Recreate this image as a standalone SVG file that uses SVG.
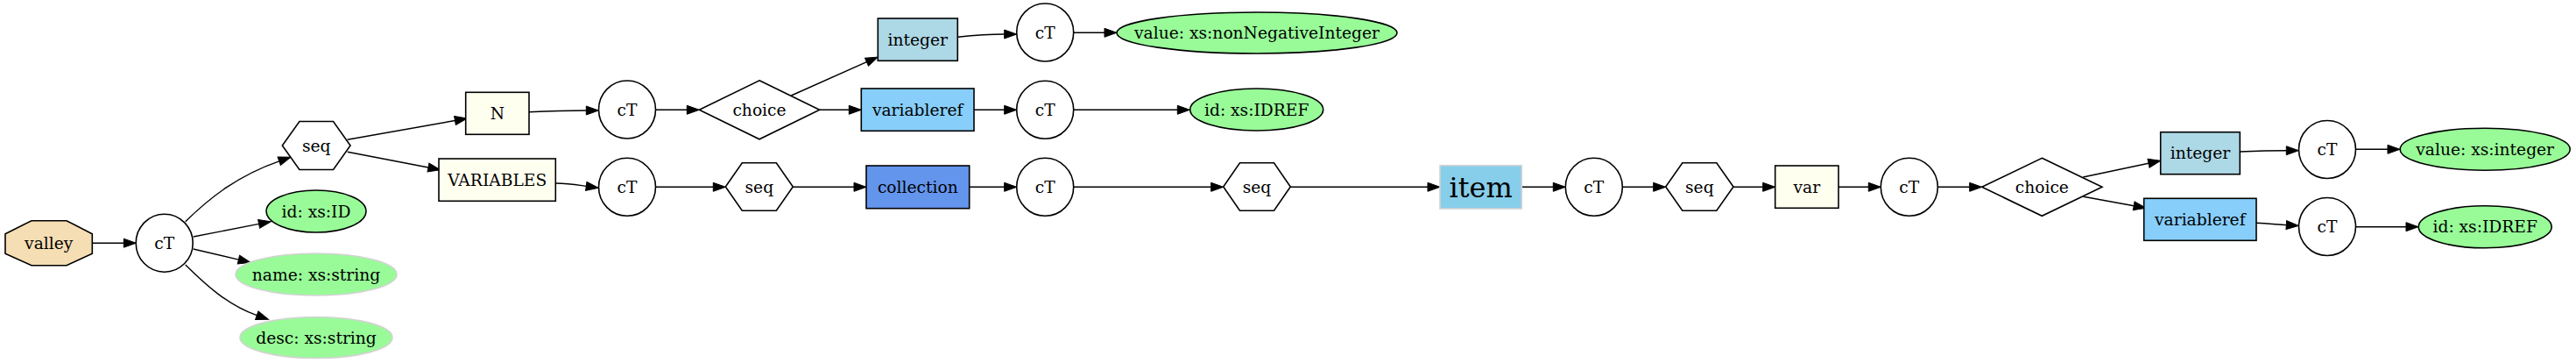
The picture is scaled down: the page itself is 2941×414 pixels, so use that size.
<svg xmlns="http://www.w3.org/2000/svg" width="2941" height="414" viewBox="0 0 2941 414">
<defs>
<style>
.s{stroke:#000;stroke-width:1.6}
.w{fill:#fff}
.iv{fill:#fffff0}
.lb{fill:#add8e6}
.ls{fill:#87cefa}
.cf{fill:#6495ed}
.sk{fill:#87ceeb;stroke:#d3d3d3;stroke-width:1.6}
.g{fill:#98fb98}
.gl{fill:#98fb98;stroke:#d3d3d3;stroke-width:1.6}
.wh{fill:#f5deb3}
text{font-family:"DejaVu Serif","Liberation Serif",serif;font-size:18.67px;text-anchor:middle;fill:#000}
.big{font-size:32px}
#edges path{fill:none;stroke:#000;stroke-width:1.4;marker-end:url(#ah)}
</style>
<marker id="ah" markerUnits="userSpaceOnUse" markerWidth="15" markerHeight="11" refX="0" refY="5" orient="auto" overflow="visible">
<path d="M0,0 L14,5 L0,10 Z" fill="#000" stroke="#000" stroke-width="1"/>
</marker>
</defs>
<rect width="2941" height="414" fill="#fff"/>
<g id="edges">
<path d="M105.3,277.2 L141.3,277.2"/>
<path d="M211.7,252.7 C240,225 272,200 318.7,183.8"/>
<path d="M220.7,270 L295.6,255.4"/>
<path d="M220.7,284 L272.4,296.1"/>
<path d="M211.7,302 C235,325 260,348 293.2,359.7"/>
<path d="M396.7,159.3 L519.5,137.5"/>
<path d="M396.7,173.3 L489,191"/>
<path d="M604,127.7 C630,126.5 650,126 669.3,126"/>
<path d="M748.3,125.3 L784.3,125.3"/>
<path d="M903.3,109 L989.5,70.7"/>
<path d="M935.7,125.3 L969.3,125.3"/>
<path d="M634.3,209 C650,209 660,211 669.3,212.3"/>
<path d="M748.3,213.3 L814.3,213.3"/>
<path d="M905.3,213.3 L975,213.3"/>
<path d="M1093.3,42.3 C1115,40 1130,39 1146.7,39"/>
<path d="M1225.7,37.3 L1261,37.3"/>
<path d="M1112,125.3 L1146.7,125.3"/>
<path d="M1225.7,125.3 L1344.3,125.3"/>
<path d="M1106.7,213.3 L1146.7,213.3"/>
<path d="M1225.7,213.3 L1382.7,213.3"/>
<path d="M1473.3,213.3 L1630,213.3"/>
<path d="M1737.3,213.3 L1773.3,213.3"/>
<path d="M1852.3,213.3 L1887.7,213.3"/>
<path d="M1979,213.3 L2012.7,213.3"/>
<path d="M2099,213.3 L2133.3,213.3"/>
<path d="M2212.3,213.3 L2248.7,213.3"/>
<path d="M2378.3,202 L2453,186.2"/>
<path d="M2377.3,224 L2436.2,234.8"/>
<path d="M2557.3,173 C2580,172 2595,171.7 2610.3,171.7"/>
<path d="M2689.7,170.3 L2726,170.3"/>
<path d="M2576,254.3 C2590,255 2600,256 2610.3,256.6"/>
<path d="M2689.7,258.7 L2747,258.7"/>
</g>
<g id="valley"><polygon class="wh s" points="36,251.7 76,251.7 105.3,266.7 105.3,289.3 76,302.7 36,302.7 6,289.3 6,266.7"/><text x="55.7" y="283.7">valley</text></g>
<g id="ct0"><ellipse class="w s" cx="187.7" cy="277.2" rx="32.5" ry="33"/><text x="187.7" y="283.7">cT</text></g>
<g id="seq0"><polygon class="w s" points="341.9,138.5 380.5,138.5 400,166 380.5,193.5 341.9,193.5 322.3,166"/><text x="361.2" y="172.5">seq</text></g>
<g id="attr_id"><ellipse class="g s" cx="361" cy="241" rx="57" ry="24"/><text x="361" y="247.5">id: xs:ID</text></g>
<g id="attr_name"><ellipse class="gl" cx="361" cy="313" rx="92" ry="24"/><text x="361" y="319.5">name: xs:string</text></g>
<g id="attr_desc"><ellipse class="gl" cx="361" cy="385" rx="87" ry="23.5"/><text x="361" y="391.5">desc: xs:string</text></g>
<g id="N"><rect class="iv s" x="531.7" y="105.3" width="72.3" height="48"/><text x="567.8" y="135.8">N</text></g>
<g id="VARIABLES"><rect class="iv s" x="501" y="181" width="133.3" height="48.3"/><text x="567.7" y="211.7">VARIABLES</text></g>
<g id="ct1"><ellipse class="w s" cx="716" cy="125" rx="32.5" ry="33"/><text x="716" y="131.5">cT</text></g>
<g id="ct2"><ellipse class="w s" cx="716" cy="213.3" rx="32.5" ry="33"/><text x="716" y="219.8">cT</text></g>
<g id="choice1"><polygon class="w s" points="867,91.8 935.7,125.3 867,158.8 798.3,125.3"/><text x="867" y="131.8">choice</text></g>
<g id="seq1"><polygon class="w s" points="847.3,185.7 886.3,185.7 905.3,213 886.3,240.3 847.3,240.3 828.3,213"/><text x="866.8" y="219.5">seq</text></g>
<g id="integer1"><rect class="lb s" x="1002.3" y="21" width="91" height="48.3"/><text x="1047.8" y="51.7">integer</text></g>
<g id="variableref1"><rect class="ls s" x="983.3" y="101" width="128.7" height="48.3"/><text x="1047.7" y="131.7">variableref</text></g>
<g id="collection"><rect class="cf s" x="989" y="189" width="117.7" height="48.7"/><text x="1047.8" y="219.8">collection</text></g>
<g id="ct3"><ellipse class="w s" cx="1193.2" cy="37" rx="32.5" ry="33"/><text x="1193.2" y="43.5">cT</text></g>
<g id="ct4"><ellipse class="w s" cx="1193.2" cy="125.3" rx="32.5" ry="33"/><text x="1193.2" y="131.8">cT</text></g>
<g id="ct5"><ellipse class="w s" cx="1193.2" cy="213.3" rx="32.5" ry="33"/><text x="1193.2" y="219.8">cT</text></g>
<g id="value1"><ellipse class="g s" cx="1435" cy="37.5" rx="160" ry="23.5"/><text x="1435" y="44">value: xs:nonNegativeInteger</text></g>
<g id="idref1"><ellipse class="g s" cx="1434.7" cy="125" rx="76" ry="24"/><text x="1434.7" y="131.5">id: xs:IDREF</text></g>
<g id="seq2"><polygon class="w s" points="1415.5,185.7 1454.5,185.7 1473.3,213 1454.5,240.3 1415.5,240.3 1396.7,213"/><text x="1435" y="219.5">seq</text></g>
<g id="item"><rect class="sk" x="1644" y="188.7" width="93.3" height="49.3"/><text class="big" x="1690.7" y="224.5">item</text></g>
<g id="ct6"><ellipse class="w s" cx="1819.8" cy="213.3" rx="32.5" ry="33"/><text x="1819.8" y="219.8">cT</text></g>
<g id="seq3"><polygon class="w s" points="1920.8,185.7 1959.8,185.7 1979,213 1959.8,240.3 1920.8,240.3 1901.7,213"/><text x="1940.3" y="219.5">seq</text></g>
<g id="var"><rect class="iv s" x="2026.7" y="189" width="72.3" height="48.3"/><text x="2062.8" y="219.7">var</text></g>
<g id="ct7"><ellipse class="w s" cx="2179.8" cy="213.3" rx="32.5" ry="33"/><text x="2179.8" y="219.8">cT</text></g>
<g id="choice2"><polygon class="w s" points="2331.3,180.3 2400,213.3 2331.3,246.3 2262.7,213.3"/><text x="2331.3" y="219.8">choice</text></g>
<g id="integer2"><rect class="lb s" x="2466.7" y="150.7" width="90.6" height="48"/><text x="2512" y="181.2">integer</text></g>
<g id="variableref2"><rect class="ls s" x="2447.7" y="226.3" width="128.3" height="48"/><text x="2511.8" y="256.8">variableref</text></g>
<g id="ct8"><ellipse class="w s" cx="2657" cy="170.5" rx="32.5" ry="33"/><text x="2657" y="177">cT</text></g>
<g id="ct9"><ellipse class="w s" cx="2657" cy="258.5" rx="32.5" ry="33"/><text x="2657" y="265">cT</text></g>
<g id="value2"><ellipse class="g s" cx="2837.2" cy="170.2" rx="97" ry="24"/><text x="2837.2" y="176.7">value: xs:integer</text></g>
<g id="idref2"><ellipse class="g s" cx="2837.2" cy="258.8" rx="76" ry="24"/><text x="2837.2" y="265.3">id: xs:IDREF</text></g>
</svg>
